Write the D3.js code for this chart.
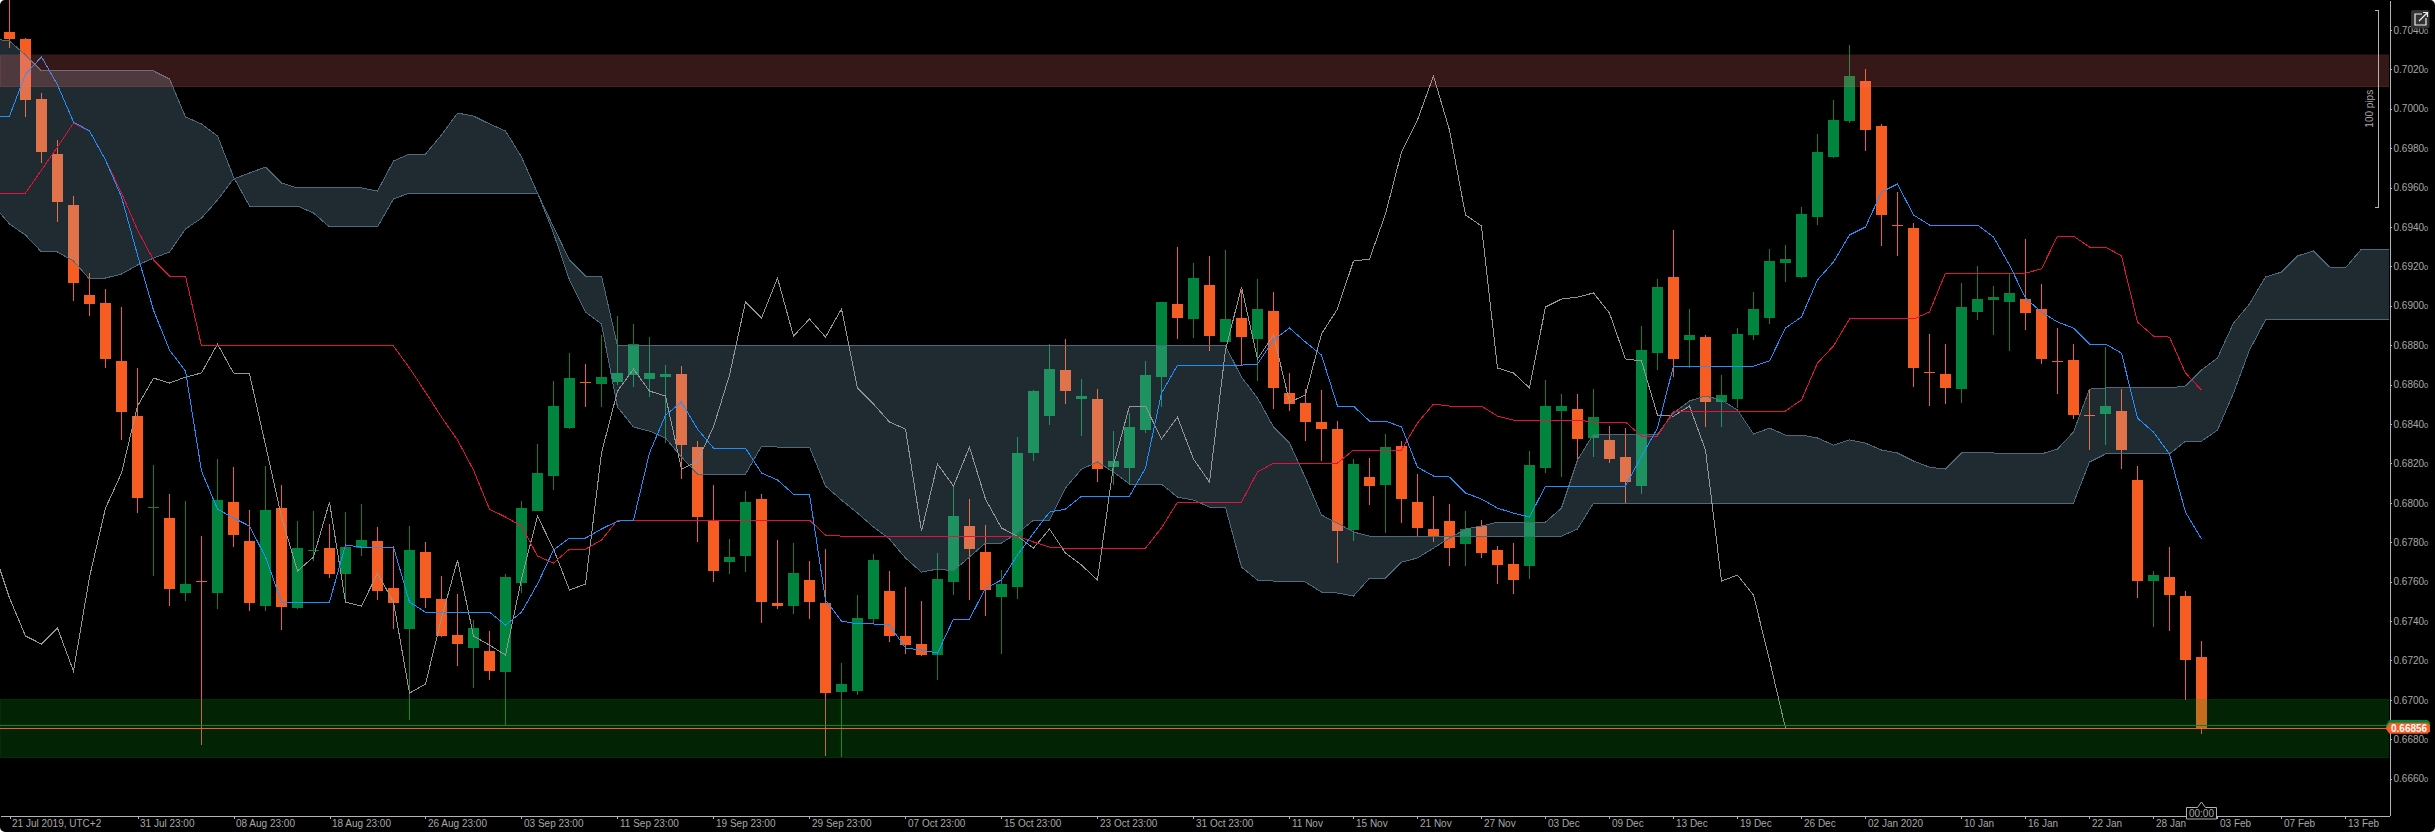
<!DOCTYPE html>
<html>
<head>
<meta charset="utf-8">
<script src="https://d3js.org/d3.v7.min.js"></script>
<style>
  html, body { margin: 0; padding: 0; background: #000; overflow: hidden; }
  svg { display: block; }
  text { font-family: "Liberation Sans", sans-serif; font-size: 10px; fill: #a8a8a8; }
</style>
</head>
<body>
<script>
// candles, first bar is index 0
var opens = [
  0.70390,0.70354,0.70049,0.69770,0.69511,0.69055,0.69014,0.68720,0.68440,0.67975,
  0.67923,0.67542,0.67603,0.67542,0.68004,0.67806,0.67476,0.67973,0.67466,0.67755,
  0.67770,0.67638,0.67770,0.67806,0.67567,0.67359,0.67750,0.67511,0.67329,0.67263,
  0.67248,0.67141,0.67593,0.67958,0.68136,0.68379,0.68613,0.68603,0.68613,0.68648,
  0.68628,0.68638,0.68654,0.68283,0.67907,0.67699,0.67730,0.68019,0.67491,0.67476,
  0.67608,0.67491,0.67039,0.67044,0.67410,0.67552,0.67324,0.67283,0.67227,0.67598,
  0.67882,0.67750,0.67522,0.67572,0.68253,0.68440,0.68674,0.68527,0.68527,0.68181,
  0.68176,0.68369,0.68638,0.69009,0.68933,0.69105,0.68816,0.68938,0.68831,0.68973,
  0.68557,0.68506,0.68410,0.68374,0.67862,0.68131,0.68090,0.68288,0.68004,0.67867,
  0.67907,0.67791,0.67882,0.67760,0.67689,0.67679,0.68176,0.68466,0.68476,0.68329,
  0.68319,0.68232,0.68085,0.68760,0.69146,0.68826,0.68841,0.68511,0.68527,0.68852,
  0.68938,0.69217,0.69146,0.69451,0.69755,0.69938,0.70141,0.69912,0.69410,0.69395,
  0.68664,0.68654,0.68577,0.68968,0.69029,0.69019,0.69034,0.68984,0.68722,0.68725,
  0.68445,0.68451,0.68466,0.68116,0.67603,0.67623,0.67527,0.67217];
var highs = [
  0.70577,0.70359,0.70080,0.69841,0.69557,0.69166,0.69085,0.68994,0.68684,0.68192,
  0.68044,0.68009,0.67831,0.68222,0.68181,0.67963,0.68187,0.68090,0.67907,0.67958,
  0.67892,0.67953,0.67994,0.67877,0.67780,0.67882,0.67801,0.67628,0.67537,0.67405,
  0.67349,0.67638,0.68009,0.68298,0.68618,0.68760,0.68704,0.68852,0.68948,0.68907,
  0.68841,0.68699,0.68694,0.68313,0.68090,0.67816,0.68060,0.68044,0.67811,0.67796,
  0.67704,0.67765,0.67187,0.67532,0.67740,0.67654,0.67572,0.67501,0.67745,0.68090,
  0.68019,0.67887,0.67659,0.68334,0.68572,0.68806,0.68831,0.68628,0.68577,0.68364,
  0.68456,0.68720,0.69019,0.69298,0.69217,0.69253,0.69283,0.69080,0.69136,0.69070,
  0.68659,0.68577,0.68572,0.68415,0.68222,0.68227,0.68349,0.68313,0.68146,0.68034,
  0.67994,0.67958,0.67912,0.67780,0.67796,0.68263,0.68623,0.68552,0.68552,0.68577,
  0.68390,0.68379,0.68897,0.69136,0.69385,0.68984,0.68852,0.68648,0.68887,0.69070,
  0.69288,0.69308,0.69501,0.69872,0.70044,0.70324,0.70202,0.69923,0.69577,0.69420,
  0.68857,0.68806,0.69115,0.69202,0.69100,0.69166,0.69339,0.69110,0.68887,0.68806,
  0.68572,0.68791,0.68577,0.68187,0.67654,0.67775,0.67552,0.67298];
var lows = [
  0.70308,0.69958,0.69725,0.69425,0.69024,0.68948,0.68684,0.68319,0.67948,0.67628,
  0.67476,0.67501,0.66770,0.67461,0.67775,0.67451,0.67451,0.67354,0.67461,0.67704,
  0.67618,0.67496,0.67730,0.67506,0.67359,0.66897,0.67466,0.67319,0.67171,0.67060,
  0.67100,0.66872,0.67542,0.67958,0.68065,0.68374,0.68486,0.68486,0.68598,0.68588,
  0.68537,0.68303,0.68121,0.67801,0.67598,0.67638,0.67648,0.67390,0.67461,0.67435,
  0.67410,0.66715,0.66709,0.67024,0.67385,0.67293,0.67232,0.67222,0.67100,0.67532,
  0.67506,0.67425,0.67232,0.67511,0.68212,0.68395,0.68501,0.68339,0.68105,0.68090,
  0.68100,0.68354,0.68486,0.68831,0.68836,0.68770,0.68816,0.68694,0.68618,0.68476,
  0.68466,0.68313,0.68212,0.67694,0.67806,0.67989,0.67846,0.67897,0.67831,0.67801,
  0.67679,0.67679,0.67720,0.67588,0.67537,0.67613,0.68151,0.68131,0.68217,0.68232,
  0.68202,0.67999,0.68044,0.68674,0.68638,0.68684,0.68385,0.68385,0.68481,0.68826,
  0.68907,0.69120,0.69141,0.69410,0.69750,0.69928,0.69786,0.69303,0.69253,0.68588,
  0.68491,0.68501,0.68506,0.68928,0.68852,0.68770,0.68877,0.68704,0.68552,0.68425,
  0.68268,0.68293,0.68171,0.67517,0.67369,0.67349,0.67000,0.66826];
var closes = [
  0.70354,0.70044,0.69780,0.69527,0.69115,0.69009,0.68730,0.68461,0.68024,0.67978,
  0.67562,0.67588,0.67598,0.68014,0.67836,0.67491,0.67963,0.67471,0.67770,0.67760,
  0.67638,0.67775,0.67811,0.67552,0.67491,0.67760,0.67517,0.67324,0.67283,0.67364,
  0.67146,0.67623,0.67973,0.68151,0.68491,0.68633,0.68608,0.68638,0.68659,0.68806,
  0.68659,0.68654,0.68293,0.67928,0.67654,0.67725,0.68004,0.67496,0.67476,0.67643,
  0.67496,0.67034,0.67080,0.67415,0.67709,0.67324,0.67278,0.67227,0.67613,0.67933,
  0.67765,0.67557,0.67588,0.68253,0.68567,0.68679,0.68567,0.68542,0.68171,0.68212,
  0.68385,0.68648,0.69019,0.68938,0.69141,0.68846,0.68933,0.68841,0.68984,0.68583,
  0.68501,0.68410,0.68374,0.67857,0.68197,0.68085,0.68283,0.68019,0.67872,0.67831,
  0.67770,0.67867,0.67745,0.67684,0.67608,0.68192,0.68491,0.68491,0.68324,0.68435,
  0.68222,0.68105,0.68775,0.69095,0.68730,0.68852,0.68511,0.68547,0.68857,0.68984,
  0.69227,0.69237,0.69466,0.69780,0.69943,0.70166,0.69892,0.69461,0.69405,0.68684,
  0.68659,0.68583,0.68994,0.69034,0.69044,0.69065,0.68963,0.68730,0.68720,0.68445,
  0.68440,0.68491,0.68268,0.67603,0.67633,0.67532,0.67202,0.66856];

// ichimoku lines start one bar before the first candle (index -1)
var tenkan = [
  0.69963,0.69963,0.70176,0.70263,0.70121,0.69933,0.69887,0.69740,0.69552,0.69258,
  0.68978,0.68775,0.68669,0.68161,0.67968,0.67923,0.67882,0.67725,0.67496,0.67496,
  0.67496,0.67496,0.67786,0.67775,0.67775,0.67775,0.67496,0.67445,0.67445,0.67445,
  0.67445,0.67445,0.67380,0.67445,0.67588,0.67760,0.67821,0.67821,0.67867,0.67907,
  0.67912,0.68253,0.68445,0.68511,0.68374,0.68278,0.68278,0.68278,0.68151,0.68116,
  0.68044,0.68044,0.67506,0.67400,0.67385,0.67385,0.67380,0.67263,0.67253,0.67237,
  0.67410,0.67410,0.67567,0.67608,0.67735,0.67846,0.67953,0.67968,0.68034,0.68034,
  0.68034,0.68034,0.68176,0.68557,0.68699,0.68699,0.68699,0.68699,0.68699,0.68704,
  0.68826,0.68887,0.68816,0.68750,0.68491,0.68491,0.68415,0.68415,0.68385,0.68181,
  0.68136,0.68131,0.68050,0.68019,0.67973,0.67948,0.67928,0.68085,0.68085,0.68085,
  0.68085,0.68085,0.68085,0.68237,0.68379,0.68694,0.68694,0.68694,0.68694,0.68694,
  0.68694,0.68720,0.68887,0.68943,0.69131,0.69222,0.69359,0.69400,0.69577,0.69618,
  0.69461,0.69410,0.69410,0.69410,0.69410,0.69349,0.69207,0.69039,0.68968,0.68918,
  0.68887,0.68806,0.68806,0.68760,0.68430,0.68359,0.68248,0.67953,0.67816];
var kijun = [
  0.69572,0.69572,0.69572,0.69689,0.69806,0.69928,0.69887,0.69740,0.69572,0.69385,
  0.69232,0.69151,0.69151,0.68796,0.68796,0.68796,0.68796,0.68796,0.68796,0.68796,
  0.68796,0.68796,0.68796,0.68796,0.68796,0.68796,0.68684,0.68562,0.68435,0.68319,
  0.68166,0.67968,0.67928,0.67882,0.67730,0.67694,0.67765,0.67765,0.67811,0.67912,
  0.67912,0.67912,0.67912,0.67912,0.67912,0.67912,0.67912,0.67912,0.67912,0.67912,
  0.67912,0.67912,0.67836,0.67831,0.67831,0.67831,0.67831,0.67831,0.67831,0.67831,
  0.67831,0.67831,0.67831,0.67831,0.67831,0.67801,0.67775,0.67770,0.67770,0.67770,
  0.67770,0.67770,0.67770,0.67872,0.68004,0.68004,0.68004,0.68004,0.68004,0.68156,
  0.68202,0.68202,0.68202,0.68202,0.68202,0.68268,0.68268,0.68268,0.68268,0.68405,
  0.68501,0.68491,0.68491,0.68491,0.68440,0.68420,0.68420,0.68420,0.68420,0.68420,
  0.68410,0.68410,0.68410,0.68339,0.68339,0.68466,0.68466,0.68466,0.68466,0.68466,
  0.68466,0.68466,0.68466,0.68522,0.68709,0.68796,0.68933,0.68933,0.68933,0.68933,
  0.68933,0.68968,0.69166,0.69166,0.69166,0.69166,0.69166,0.69166,0.69187,0.69354,
  0.69354,0.69298,0.69298,0.69253,0.68918,0.68846,0.68841,0.68659,0.68572];
var chikou = [
  0.67760,0.67517,0.67324,0.67283,0.67364,0.67146,0.67623,0.67973,0.68151,0.68491,
  0.68633,0.68608,0.68638,0.68659,0.68806,0.68659,0.68654,0.68293,0.67928,0.67654,
  0.67725,0.68004,0.67496,0.67476,0.67643,0.67496,0.67034,0.67080,0.67415,0.67709,
  0.67324,0.67278,0.67227,0.67613,0.67933,0.67765,0.67557,0.67588,0.68253,0.68567,
  0.68679,0.68567,0.68542,0.68171,0.68212,0.68385,0.68648,0.69019,0.68938,0.69141,
  0.68846,0.68933,0.68841,0.68984,0.68583,0.68501,0.68410,0.68374,0.67857,0.68197,
  0.68085,0.68283,0.68019,0.67872,0.67831,0.67770,0.67867,0.67745,0.67684,0.67608,
  0.68192,0.68491,0.68491,0.68324,0.68435,0.68222,0.68105,0.68775,0.69095,0.68730,
  0.68852,0.68511,0.68547,0.68857,0.68984,0.69227,0.69237,0.69466,0.69780,0.69943,
  0.70166,0.69892,0.69461,0.69405,0.68684,0.68659,0.68583,0.68994,0.69034,0.69044,
  0.69065,0.68963,0.68730,0.68720,0.68445,0.68440,0.68491,0.68268,0.67603,0.67633,
  0.67532,0.67202,0.66856];
var spanA = [
  0.69511,0.69415,0.69359,0.69273,0.69273,0.69227,0.69136,0.69141,0.69161,0.69207,
  0.69242,0.69273,0.69390,0.69445,0.69537,0.69643,0.69674,0.69704,0.69623,0.69598,
  0.69598,0.69598,0.69598,0.69598,0.69582,0.69735,0.69770,0.69770,0.69867,0.69978,
  0.69963,0.69923,0.69887,0.69755,0.69572,0.69369,0.69131,0.68968,0.68907,0.68486,
  0.68385,0.68364,0.68329,0.68232,0.68146,0.68146,0.68146,0.68146,0.68288,0.68283,
  0.68283,0.68283,0.68085,0.68014,0.67948,0.67877,0.67816,0.67720,0.67648,0.67664,
  0.67654,0.67725,0.67796,0.67796,0.67846,0.67912,0.67912,0.68075,0.68171,0.68207,
  0.68156,0.68095,0.68095,0.68095,0.68029,0.68014,0.67978,0.67978,0.67674,0.67608,
  0.67603,0.67603,0.67598,0.67547,0.67542,0.67527,0.67618,0.67618,0.67699,0.67720,
  0.67770,0.67821,0.67867,0.67882,0.67902,0.67902,0.67902,0.67902,0.67973,0.68217,
  0.68349,0.68349,0.68349,0.68349,0.68349,0.68456,0.68517,0.68542,0.68522,0.68471,
  0.68349,0.68379,0.68344,0.68344,0.68329,0.68293,0.68319,0.68303,0.68268,0.68253,
  0.68212,0.68181,0.68171,0.68253,0.68253,0.68253,0.68248,0.68248,0.68248,0.68273,
  0.68359,0.68577,0.68583,0.68583,0.68583,0.68583,0.68583,0.68593,0.68674,0.68735,
  0.68912,0.69009,0.69146,0.69171,0.69253,0.69278,0.69197,0.69192,0.69288,0.69288,0.69288];
var spanB = [
  0.70354,0.70344,0.70273,0.70192,0.70192,0.70192,0.70192,0.70192,0.70192,0.70192,
  0.70192,0.70151,0.69958,0.69923,0.69862,0.69654,0.69506,0.69506,0.69506,0.69506,
  0.69471,0.69400,0.69400,0.69400,0.69400,0.69542,0.69572,0.69572,0.69572,0.69572,
  0.69572,0.69572,0.69572,0.69572,0.69572,0.69400,0.69232,0.69151,0.69151,0.68796,
  0.68796,0.68796,0.68796,0.68796,0.68796,0.68796,0.68796,0.68796,0.68796,0.68796,
  0.68796,0.68796,0.68796,0.68796,0.68796,0.68796,0.68796,0.68796,0.68796,0.68796,
  0.68796,0.68796,0.68796,0.68796,0.68796,0.68796,0.68796,0.68796,0.68796,0.68796,
  0.68796,0.68796,0.68796,0.68796,0.68796,0.68796,0.68796,0.68796,0.68638,0.68532,
  0.68385,0.68303,0.68126,0.67938,0.67897,0.67852,0.67831,0.67831,0.67831,0.67831,
  0.67831,0.67831,0.67831,0.67831,0.67831,0.67831,0.67831,0.67831,0.67831,0.67867,
  0.67999,0.67999,0.67999,0.67999,0.67999,0.67999,0.67999,0.67999,0.67999,0.67999,
  0.67999,0.67999,0.67999,0.67999,0.67999,0.67999,0.67999,0.67999,0.67999,0.67999,
  0.67999,0.67999,0.67999,0.67999,0.67999,0.67999,0.67999,0.67999,0.67999,0.67999,
  0.67999,0.68207,0.68248,0.68248,0.68248,0.68248,0.68248,0.68313,0.68313,0.68369,
  0.68557,0.68775,0.68928,0.68928,0.68928,0.68928,0.68928,0.68928,0.68928,0.68928,0.68928];

// axis ticks
var priceTicks = [0.7040,0.7020,0.7000,0.6980,0.6960,0.6940,0.6920,0.6900,0.6880,0.6860,
  0.6840,0.6820,0.6800,0.6780,0.6760,0.6740,0.6720,0.6700,0.6680,0.6660];
var timeTicks = [0,8,14,20,26,32,38,44,50,56,62,68,74,80,84,88,92,96,100,104,108,112,116,122,126,130,134,138,142,146];
var timeLabels = ["21 Jul 2019, UTC+2","31 Jul 23:00","08 Aug 23:00","18 Aug 23:00","26 Aug 23:00","03 Sep 23:00",
  "11 Sep 23:00","19 Sep 23:00","29 Sep 23:00","07 Oct 23:00","15 Oct 23:00","23 Oct 23:00","31 Oct 23:00",
  "11 Nov","15 Nov","21 Nov","27 Nov","03 Dec","09 Dec","13 Dec","19 Dec","26 Dec","02 Jan 2020","10 Jan",
  "16 Jan","22 Jan","28 Jan","03 Feb","07 Feb","13 Feb"];

// zones, price lines and the pips ruler
var resistanceZone = [0.70273, 0.70112];
var supportZone = [0.67004, 0.66706];
var askPrice = 0.66870;
var bidPrice = 0.66856;
var rulerPrices = [0.70499, 0.69501];

var svgWidth = 2435, svgHeight = 832;
var plotWidth = 2389, plotHeight = 815.5;

var orange = "#f55d23", green = "#00843e";

var x = d3.scaleLinear().domain([-0.594, 148.72]).range([0, plotWidth]);
var y = d3.scaleLinear().domain([0.70552, 0.66413]).range([0, plotHeight]);

var svg = d3.select("body").append("svg")
    .attr("width", svgWidth)
    .attr("height", svgHeight)
    .style("background", "#000");

svg.append("defs").append("clipPath").attr("id", "plot")
  .append("rect").attr("width", plotWidth).attr("height", plotHeight);

var chart = svg.append("g").attr("clip-path", "url(#plot)");

// candles
var candles = chart.append("g").attr("shape-rendering", "crispEdges")
  .selectAll("g").data(closes).enter().append("g")
    .attr("fill", (d, i) => d >= opens[i] ? green : orange);

candles.append("rect")
    .attr("x", (d, i) => x(i) - 0.5)
    .attr("width", 1)
    .attr("y", (d, i) => y(highs[i]))
    .attr("height", (d, i) => y(lows[i]) - y(highs[i]));

candles.append("rect")
    .attr("x", (d, i) => x(i) - 5.5)
    .attr("width", 11)
    .attr("y", (d, i) => y(Math.max(opens[i], d)))
    .attr("height", (d, i) => Math.max(1, y(Math.min(opens[i], d)) - y(Math.max(opens[i], d))));

// cloud, sits over the candles and lightens them
var cloud = d3.area()
    .x((d, i) => x(i - 1))
    .y0((d, i) => y(spanB[i]))
    .y1(d => y(d));

chart.append("path")
    .attr("d", cloud(spanA))
    .attr("fill", "rgb(148,200,233)")
    .attr("fill-opacity", 0.21);

function drawLine(values, color) {
  var line = d3.line().x((d, i) => x(i - 1)).y(d => y(d));
  chart.append("path")
      .attr("d", line(values))
      .attr("fill", "none")
      .attr("stroke", color)
      .attr("stroke-width", 1)
      .attr("shape-rendering", "crispEdges");
}

drawLine(spanA, "#4a6b7b");
drawLine(spanB, "#4a6b7b");
drawLine(chikou, "#969696");
drawLine(kijun, "#e5103f");
drawLine(tenkan, "#1e90ff");

// zones
function drawZone(prices, fill, edge) {
  chart.append("rect")
      .attr("x", 0)
      .attr("width", plotWidth)
      .attr("y", y(prices[0]))
      .attr("height", y(prices[1]) - y(prices[0]))
      .attr("fill", fill)
      .attr("stroke", edge)
      .attr("stroke-width", 1)
      .attr("shape-rendering", "crispEdges");
}

drawZone(resistanceZone, "rgba(255,114,114,0.21)", "rgba(255,114,114,0.1)");
drawZone(supportZone, "rgba(14,167,24,0.21)", "rgba(14,167,24,0.08)");

// price lines
function drawPriceLine(price, color) {
  chart.append("line")
      .attr("x1", 0).attr("x2", plotWidth)
      .attr("y1", Math.round(y(price)) + 0.5).attr("y2", Math.round(y(price)) + 0.5)
      .attr("stroke", color)
      .attr("shape-rendering", "crispEdges");
}

drawPriceLine(askPrice, green);
drawPriceLine(bidPrice, orange);

// axes
var yAxis = svg.append("g")
    .attr("transform", `translate(${plotWidth + 0.5}, 0)`)
    .call(d3.axisRight(y).tickValues(priceTicks).tickSize(2).tickSizeOuter(0).tickPadding(2));

yAxis.selectAll("text").each(function(d) {
  var label = d3.select(this).text(null);
  label.append("tspan").text(d.toFixed(4));
  label.append("tspan").style("font-size", "7.5px").text("0");
});

var xAxis = svg.append("g")
    .attr("transform", `translate(0, ${plotHeight})`)
    .call(d3.axisBottom(x).tickValues(timeTicks).tickSize(3).tickSizeOuter(0).tickPadding(2)
        .tickFormat((d, i) => timeLabels[i]));

xAxis.selectAll("text")
    .attr("text-anchor", "start")
    .attr("x", 2)
    .attr("y", 4);

svg.selectAll(".domain, .tick line")
    .attr("stroke", "#b4b4b4")
    .attr("shape-rendering", "crispEdges");
svg.selectAll(".tick text").attr("fill", "#a8a8a8");

// pips ruler
var rulerX = 2378.5;
var rulerTop = y(rulerPrices[0]), rulerBottom = y(rulerPrices[1]);

svg.append("path")
    .attr("d", `M${rulerX - 4},${rulerTop}H${rulerX}V${rulerBottom}H${rulerX - 4}`)
    .attr("fill", "none")
    .attr("stroke", "#b4b4b4")
    .attr("shape-rendering", "crispEdges");

svg.append("text")
    .attr("transform", `translate(${rulerX - 6}, ${(rulerTop + rulerBottom) / 2 + 0}) rotate(-90)`)
    .attr("text-anchor", "middle")
    .text("100 pips");

// price tags on the axis
function priceTag(price, color) {
  var c = y(price), h = 5.5;
  var l = plotWidth + 0.5;
  return svg.append("path")
      .attr("d", `M${l - 4},${c}L${l},${c - h}H${l + 38}L${l + 40.5},${c - h + 2.5}V${c + h - 2.5}L${l + 38},${c + h}H${l}Z`)
      .attr("fill", color);
}

priceTag(askPrice, green);
priceTag(bidPrice, orange);

svg.append("text")
    .attr("x", plotWidth + 2)
    .attr("y", y(bidPrice) + 3.5)
    .style("fill", "#fff")
    .style("font-weight", "bold")
    .text(bidPrice.toFixed(5));

// time to close label
var lastX = x(closes.length - 1);

svg.append("path")
    .attr("d", `M${lastX - 15},807.5H${lastX - 4}L${lastX},802L${lastX + 4},807.5H${lastX + 15}V819H${lastX - 15}Z`)
    .attr("fill", "#000")
    .attr("stroke", "#b4b4b4");

svg.append("text")
    .attr("x", lastX)
    .attr("y", 817)
    .attr("text-anchor", "middle")
    .text("00:00");

// new window icon
svg.append("rect")
    .attr("x", 2411).attr("y", 10).attr("width", 18.5).attr("height", 18.5).attr("rx", 2)
    .attr("fill", "#333");

svg.append("path")
    .attr("d", "M2422,14H2415V25H2426V18M2419,21L2427,13M2423,12.5H2427.5V17")
    .attr("fill", "none")
    .attr("stroke", "#eee")
    .attr("stroke-width", 1.2);

// rounded window corners
var corner = "M0,0H5A5,5 0 0 0 0,5Z";
svg.append("path").attr("d", corner).attr("fill", "#fff");
svg.append("path").attr("d", corner).attr("fill", "#fff")
    .attr("transform", `translate(${svgWidth},0) scale(-1,1)`);
svg.append("path").attr("d", corner).attr("fill", "#fff")
    .attr("transform", `translate(0,${svgHeight}) scale(1,-1)`);
svg.append("path").attr("d", corner).attr("fill", "#fff")
    .attr("transform", `translate(${svgWidth},${svgHeight}) scale(-1,-1)`);
</script>
</body>
</html>
